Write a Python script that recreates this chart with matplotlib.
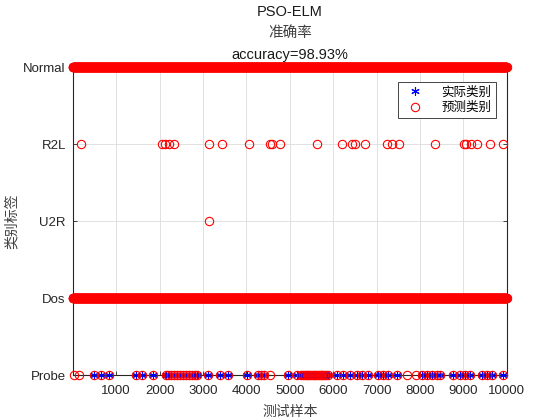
import numpy as np
import matplotlib
matplotlib.use("Agg")
import matplotlib.pyplot as plt

plt.rcParams['font.family'] = ['Liberation Sans', 'Noto Sans CJK SC', 'DejaVu Sans']

# class codes on the y axis
class_names = ['Probe', 'Dos', 'U2R', 'R2L', 'Normal']
n_samples = 10000

probe_idx = [500, 655, 830, 1463, 1600, 1850, 2140, 2200, 2260, 2330, 2400,
             2470, 2540, 2610, 2680, 2750, 2810, 2860, 3120, 3390, 3580, 4020,
             4270, 4330, 4400, 4970, 5160, 5270, 5310, 5350, 5390, 5430, 5470,
             5510, 5550, 5590, 5630, 5670, 5710, 5750, 5790, 5830, 5885, 6078,
             6232, 6386, 6540, 6655, 6810, 7040, 7155, 7270, 7462, 8039, 8155,
             8270, 8385, 8462, 8770, 8923, 9039, 9154, 9423, 9539, 9654, 9908]
# predicted Probe, but really another class
probe_wrong = [20, 154, 4540, 7693, 7908]
# predicted R2L / U2R (all wrong, no real sample there)
r2l_pred = [190, 2061, 2119, 2226, 2333, 3133, 3438, 4064, 4534, 4600, 4765,
            5622, 6199, 6430, 6513, 6743, 7238, 7354, 7527, 8351, 9010, 9068,
            9175, 9315, 9604, 9917]
u2r_pred = [3143]
# Normal and Dos rows are filled over the whole test range
normal_span = (1, 10000)
dos_span = (1, 10000)

normal_x = np.arange(normal_span[0], normal_span[1] + 1, 5)
dos_x = np.arange(dos_span[0], dos_span[1] + 1, 5)

act_x = np.concatenate([probe_idx, dos_x, normal_x])
act_y = np.concatenate([np.full(len(probe_idx), 1), np.full(len(dos_x), 2),
                        np.full(len(normal_x), 5)])
pre_x = np.concatenate([probe_idx, probe_wrong, dos_x, u2r_pred, r2l_pred, normal_x])
pre_y = np.concatenate([np.full(len(probe_idx) + len(probe_wrong), 1),
                        np.full(len(dos_x), 2), np.full(len(u2r_pred), 3),
                        np.full(len(r2l_pred), 4), np.full(len(normal_x), 5)])

fig = plt.figure(figsize=(5.6, 4.2), dpi=100)
ax = fig.add_axes([0.130, 0.107, 0.775, 0.733])

h1, = ax.plot(act_x, act_y, linestyle='none', marker=(6, 2, 0), color=(0, 0, 1),
              markersize=6, markeredgewidth=0.8, clip_on=False, zorder=3)
h2, = ax.plot(pre_x, pre_y, linestyle='none', marker='o', markerfacecolor='none',
              markeredgecolor=(1, 0, 0), markersize=6, markeredgewidth=0.8,
              clip_on=False, zorder=4)

ax.set_xlim(1, n_samples)
ax.set_ylim(1, 5)
ax.set_xticks(np.arange(1000, 10001, 1000))
ax.set_yticks([1, 2, 3, 4, 5])
ax.set_yticklabels(class_names)
ax.grid(True, color='#dcdcdc', linewidth=0.6)
ax.set_axisbelow(True)
ax.tick_params(direction='in', length=3, width=0.6, labelsize=9.5, colors='#262626',
               top=True, right=True)
ax.tick_params(axis='x', pad=7)
ax.tick_params(axis='y', pad=5)
for s in ax.spines.values():
    s.set_linewidth(0.8)
    s.set_color('#262626')

ax.set_xlabel('测试样本', fontsize=10, color='#404040', labelpad=6)
ax.set_ylabel('类别标签', fontsize=10, color='#404040', labelpad=3)

fig.text(0.518, 0.971, 'PSO-ELM', ha='center', va='center', fontsize=10.5, color='#1a1a1a')
fig.text(0.518, 0.921, '准确率', ha='center', va='center', fontsize=10.5, color='#404040')
fig.text(0.518, 0.869, 'accuracy=98.93%', ha='center', va='center', fontsize=10.5, color='#1a1a1a')

leg = ax.legend([h1, h2], ['实际类别', '预测类别'], loc='upper right',
                bbox_to_anchor=(0.975, 0.951), borderaxespad=0, fontsize=9,
                fancybox=False, framealpha=1, edgecolor='#262626',
                handletextpad=1.2, borderpad=0.35, labelspacing=0.25,
                handlelength=1.9)
leg.get_frame().set_linewidth(0.6)
leg.set_zorder(10)

fig.savefig('out.png', dpi=100)
